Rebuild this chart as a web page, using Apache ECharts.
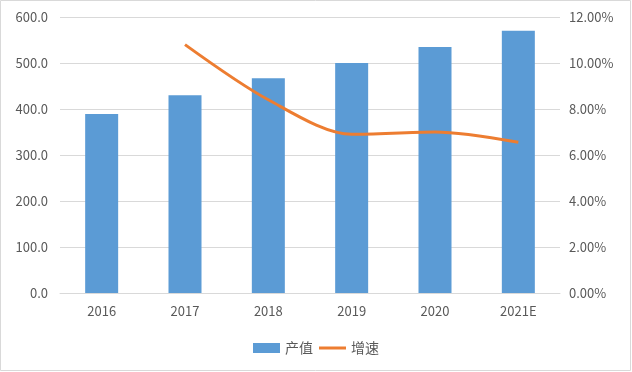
<!DOCTYPE html>
<html><head><meta charset="utf-8">
<script src="https://cdn.jsdelivr.net/npm/echarts@6/dist/echarts.min.js"></script>
<style>html,body{margin:0;padding:0;background:#fff}#c{width:632px;height:372px}</style>
</head><body><div id="c"></div>
<script>
const categories = ['2016','2017','2018','2019','2020','2021E'];
const outputValues = [389, 430, 467, 500, 535, 570];
const growthRates = [null, 10.8, 8.4, 6.9, 7.0, 6.55];
const leftTicks = [0, 100, 200, 300, 400, 500, 600];
const rightTicks = [0, 2, 4, 6, 8, 10, 12];

const chart = echarts.init(document.getElementById('c'));
const txt = '#595959';
const font = '"Microsoft YaHei","Noto Sans CJK SC",sans-serif';
chart.setOption({
  animation: false,
  textStyle: {fontFamily: font},
  graphic: [{type:'rect', shape:{x:0.5,y:0.5,width:630,height:370}, style:{fill:'none', stroke:'#d9d9d9', lineWidth:1}}],
  grid: {left: 60, right: 72, top: 17, bottom: 79},
  legend: {
    bottom: 12, left: 'center', itemGap: 6, itemWidth: 27, itemHeight: 10,
    textStyle: {color: txt, fontSize: 14, fontFamily: font},
    data: [{name:'产值', icon:'rect'}, {name:'增速', icon:'path://M0,0 L27,0 L27,3 L0,3 Z'}]
  },
  xAxis: {
    type: 'category', data: categories,
    axisLine: {lineStyle: {color: '#d9d9d9'}}, axisTick: {show: false},
    axisLabel: {color: txt, fontSize: 13, margin: 12}
  },
  yAxis: [{
    type: 'value', min: leftTicks[0], max: leftTicks[leftTicks.length-1], interval: 100,
    axisLine: {show: false}, axisTick: {show: false},
    splitLine: {lineStyle: {color: '#d9d9d9'}},
    axisLabel: {color: txt, fontSize: 13, margin: 12, formatter: v => v.toFixed(1)}
  }, {
    type: 'value', min: rightTicks[0], max: rightTicks[rightTicks.length-1], interval: 2,
    axisLine: {show: false}, axisTick: {show: false}, splitLine: {show: false},
    axisLabel: {color: txt, fontSize: 13, margin: 9, formatter: v => v.toFixed(2) + '%'}
  }],
  series: [{
    name: '产值', type: 'bar', data: outputValues, barWidth: 33,
    itemStyle: {color: '#5B9BD5'}
  }, {
    name: '增速', type: 'line', yAxisIndex: 1, data: growthRates, smooth: 0.3,
    showSymbol: false, symbol: 'none', lineStyle: {color: '#ED7D31', width: 3},
    itemStyle: {color: '#ED7D31'}
  }]
});
</script></body></html>
